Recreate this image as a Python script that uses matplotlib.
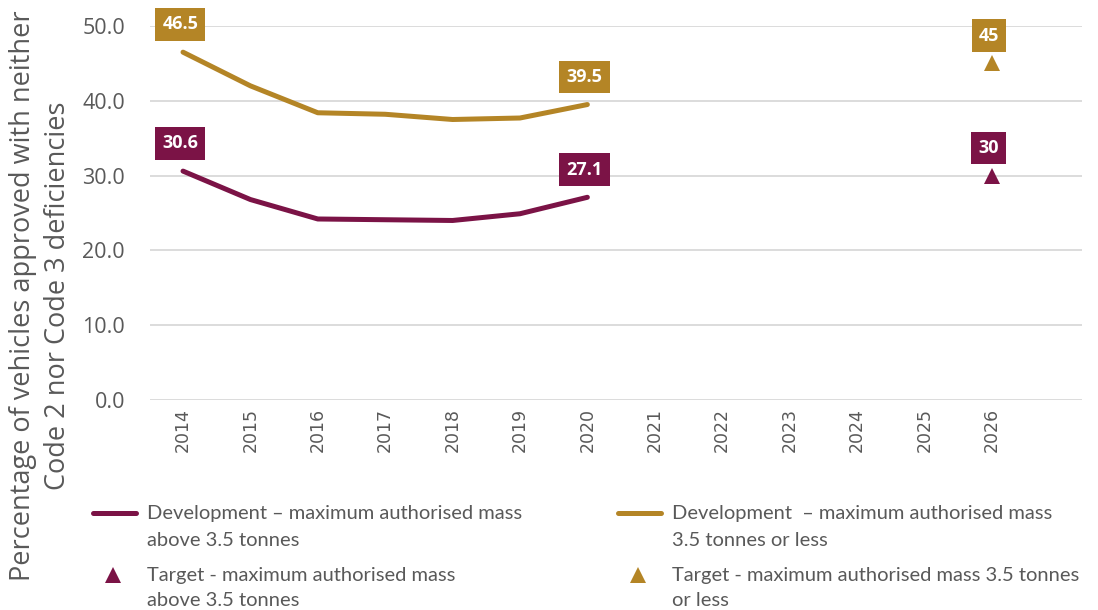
import matplotlib.pyplot as plt
from matplotlib.lines import Line2D

years = [2014, 2015, 2016, 2017, 2018, 2019, 2020, 2021, 2022, 2023, 2024, 2025, 2026]
dev_years = [2014, 2015, 2016, 2017, 2018, 2019, 2020]
dev_above = [30.6, 26.8, 24.2, 24.1, 24.0, 24.9, 27.1]
dev_below = [46.5, 42.0, 38.4, 38.2, 37.5, 37.7, 39.5]
target_year = [2026]
target_above = [30]
target_below = [45]
yticks = [0, 10, 20, 30, 40, 50]

MAROON = '#7B1346'
GOLD = '#B48526'
GREY = '#595959'

plt.rcParams['font.family'] = ['Open Sans', 'DejaVu Sans']

fig = plt.figure(figsize=(10.98, 6.10), dpi=100)
ax = fig.add_axes([150/1098, 1-400/610, (1082-150)/1098, (400-26)/610])
ax.set_xlim(2013.51, 2027.34)
ax.set_ylim(0, 50)

ax.set_yticks(yticks)
ax.set_yticklabels([f'{v:.1f}' for v in yticks], fontsize=15.5, color=GREY)
ax.set_xticks(years)
ax.set_xticklabels([str(y) for y in years], rotation=90, fontsize=12.5, color=GREY,
                   family='DejaVu Sans')
ax.tick_params(length=0, axis='both')
ax.tick_params(axis='y', pad=18)
ax.tick_params(axis='x', pad=6)
for s in ax.spines.values():
    s.set_visible(False)
ax.grid(axis='y', color='#D9D9D9', linewidth=1.3)
ax.set_axisbelow(True)

ax.plot(dev_years, dev_above, color=MAROON, lw=3.6, solid_capstyle='round', solid_joinstyle='round')
ax.plot(dev_years, dev_below, color=GOLD, lw=3.6, solid_capstyle='round', solid_joinstyle='round')
ax.plot(target_year, target_above, '^', color=MAROON, ms=11, mew=0)
ax.plot(target_year, target_below, '^', color=GOLD, ms=11, mew=0)

def label(x, y, txt, color):
    ax.annotate(txt, (x, y), xytext=(-2, 20), textcoords='offset points',
                ha='center', va='center', fontsize=13, fontweight='bold', color='white',
                bbox=dict(boxstyle='square,pad=0.4', fc=color, ec='none'))

label(dev_years[0], dev_above[0], f'{dev_above[0]:.1f}', MAROON)
label(dev_years[-1], dev_above[-1], f'{dev_above[-1]:.1f}', MAROON)
label(dev_years[0], dev_below[0], f'{dev_below[0]:.1f}', GOLD)
label(dev_years[-1], dev_below[-1], f'{dev_below[-1]:.1f}', GOLD)
label(target_year[0], target_above[0], f'{target_above[0]}', MAROON)
label(target_year[0], target_below[0], f'{target_below[0]}', GOLD)

fig.text(0.037, 0.515, 'Percentage of vehicles approved with neither\nCode 2 nor Code 3 deficiencies',
         rotation=90, ha='center', va='center', fontsize=19.5, color=GREY, linespacing=1.3)

# legend
W, H = 1098, 610
def fx(px): return px / W
def fy(py): return 1 - py / H
lfont = dict(fontsize=14.5, color=GREY, family=['Lato', 'DejaVu Sans'], va='center', ha='left')
fig.add_artist(Line2D([fx(93), fx(136)], [fy(513), fy(513)], color=MAROON, lw=3.6, solid_capstyle='round'))
fig.add_artist(Line2D([fx(618), fx(661)], [fy(513), fy(513)], color=GOLD, lw=3.6, solid_capstyle='round'))
fig.add_artist(Line2D([fx(113)], [fy(575)], marker='^', color=MAROON, ms=11, mew=0, lw=0))
fig.add_artist(Line2D([fx(638)], [fy(575)], marker='^', color=GOLD, ms=11, mew=0, lw=0))
fig.text(fx(147), fy(513), 'Development \u2013 maximum authorised mass', **lfont)
fig.text(fx(147), fy(540), 'above 3.5 tonnes', **lfont)
fig.text(fx(147), fy(575), 'Target - maximum authorised mass', **lfont)
fig.text(fx(147), fy(600), 'above 3.5 tonnes', **lfont)
fig.text(fx(672), fy(513), 'Development  \u2013 maximum authorised mass', **lfont)
fig.text(fx(672), fy(540), '3.5 tonnes or less', **lfont)
fig.text(fx(672), fy(575), 'Target - maximum authorised mass 3.5 tonnes', **lfont)
fig.text(fx(672), fy(600), 'or less', **lfont)

fig.savefig('out.png', dpi=100)
